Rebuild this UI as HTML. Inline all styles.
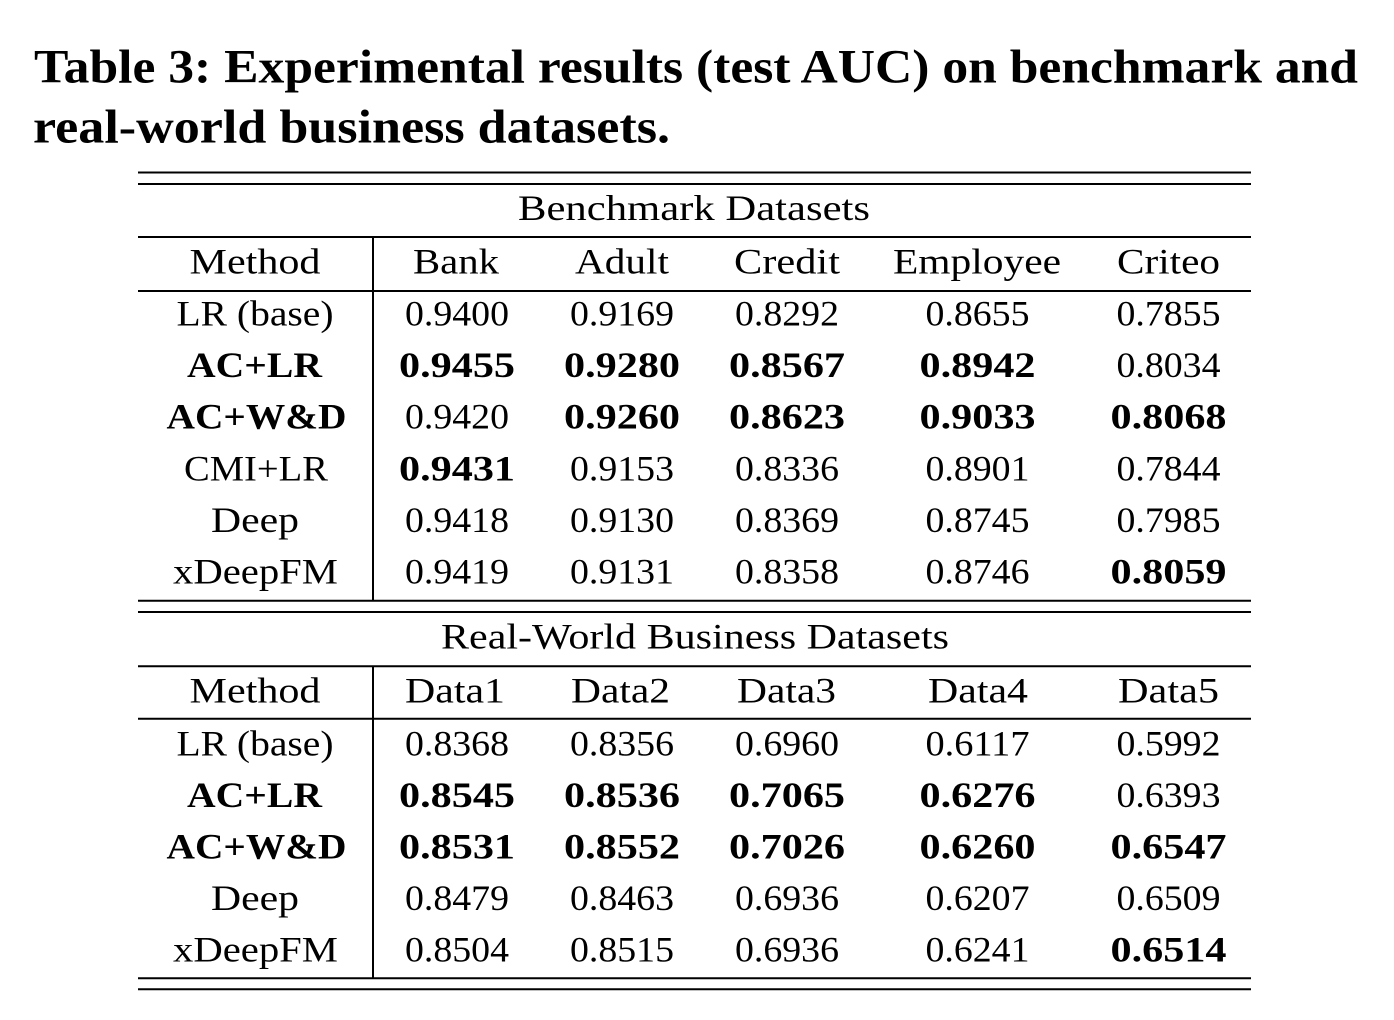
<!DOCTYPE html>
<html>
<head>
<meta charset="utf-8">
<style>
  html, body { margin: 0; padding: 0; background: #fff; }
  body { width: 1394px; height: 1020px; overflow: hidden; }
  svg { display: block; }
  text { font-family: "Liberation Serif", "DejaVu Serif", serif; fill: #000; }
  .t { font-size: 48px; font-weight: bold; }
  .c { font-size: 36px; }
  .b { font-size: 36px; font-weight: bold; }
</style>
</head>
<body>
<svg width="1394" height="1020" viewBox="0 0 1394 1020" xmlns="http://www.w3.org/2000/svg">
  <!-- Title -->
  <text class="t" x="34" y="82.7" textLength="1324" lengthAdjust="spacingAndGlyphs">Table 3: Experimental results (test AUC) on benchmark and</text>
  <text class="t" x="33" y="142.5" textLength="637" lengthAdjust="spacingAndGlyphs">real-world business datasets.</text>

  <!-- Rules -->
  <g stroke="#000" stroke-width="2">
    <line x1="138" y1="172.5" x2="1251" y2="172.5"/>
    <line x1="138" y1="184" x2="1251" y2="184"/>
    <line x1="138" y1="237" x2="1251" y2="237"/>
    <line x1="138" y1="291" x2="1251" y2="291"/>
    <line x1="138" y1="600.7" x2="1251" y2="600.7"/>
    <line x1="138" y1="612" x2="1251" y2="612"/>
    <line x1="138" y1="666.3" x2="1251" y2="666.3"/>
    <line x1="138" y1="718.7" x2="1251" y2="718.7"/>
    <line x1="138" y1="978.3" x2="1251" y2="978.3"/>
    <line x1="138" y1="989.3" x2="1251" y2="989.3"/>
    <line x1="373" y1="237" x2="373" y2="600.7"/>
    <line x1="373" y1="666.3" x2="373" y2="978.3"/>
  </g>

  <!-- Benchmark section -->
  <text class="c" x="518" y="220" textLength="352" lengthAdjust="spacingAndGlyphs">Benchmark Datasets</text>

  <text class="c" x="189.5" y="273.5" textLength="131" lengthAdjust="spacingAndGlyphs">Method</text>
  <text class="c" x="413" y="273.5" textLength="86" lengthAdjust="spacingAndGlyphs">Bank</text>
  <text class="c" x="575" y="273.5" textLength="94" lengthAdjust="spacingAndGlyphs">Adult</text>
  <text class="c" x="734" y="273.5" textLength="106" lengthAdjust="spacingAndGlyphs">Credit</text>
  <text class="c" x="893" y="273.5" textLength="168" lengthAdjust="spacingAndGlyphs">Employee</text>
  <text class="c" x="1117" y="273.5" textLength="103" lengthAdjust="spacingAndGlyphs">Criteo</text>

  <!-- Row: LR (base) -->
  <text class="c" x="176.5" y="325.5" textLength="157" lengthAdjust="spacingAndGlyphs">LR (base)</text>
  <text class="c" x="405" y="325.5" textLength="104" lengthAdjust="spacingAndGlyphs">0.9400</text>
  <text class="c" x="570" y="325.5" textLength="104" lengthAdjust="spacingAndGlyphs">0.9169</text>
  <text class="c" x="735" y="325.5" textLength="104" lengthAdjust="spacingAndGlyphs">0.8292</text>
  <text class="c" x="925.5" y="325.5" textLength="104" lengthAdjust="spacingAndGlyphs">0.8655</text>
  <text class="c" x="1116.5" y="325.5" textLength="104" lengthAdjust="spacingAndGlyphs">0.7855</text>

  <!-- Row: AC+LR -->
  <text class="b" x="187" y="377.1" textLength="135" lengthAdjust="spacingAndGlyphs">AC+LR</text>
  <text class="b" x="399" y="377.1" textLength="116" lengthAdjust="spacingAndGlyphs">0.9455</text>
  <text class="b" x="564" y="377.1" textLength="116" lengthAdjust="spacingAndGlyphs">0.9280</text>
  <text class="b" x="729" y="377.1" textLength="116" lengthAdjust="spacingAndGlyphs">0.8567</text>
  <text class="b" x="919.5" y="377.1" textLength="116" lengthAdjust="spacingAndGlyphs">0.8942</text>
  <text class="c" x="1116.5" y="377.1" textLength="104" lengthAdjust="spacingAndGlyphs">0.8034</text>

  <!-- Row: AC+W&D -->
  <text class="b" x="166.5" y="428.7" textLength="180" lengthAdjust="spacingAndGlyphs">AC+W&amp;D</text>
  <text class="c" x="405" y="428.7" textLength="104" lengthAdjust="spacingAndGlyphs">0.9420</text>
  <text class="b" x="564" y="428.7" textLength="116" lengthAdjust="spacingAndGlyphs">0.9260</text>
  <text class="b" x="729" y="428.7" textLength="116" lengthAdjust="spacingAndGlyphs">0.8623</text>
  <text class="b" x="919.5" y="428.7" textLength="116" lengthAdjust="spacingAndGlyphs">0.9033</text>
  <text class="b" x="1110.5" y="428.7" textLength="116" lengthAdjust="spacingAndGlyphs">0.8068</text>

  <!-- Row: CMI+LR -->
  <text class="c" x="184" y="480.3" textLength="144" lengthAdjust="spacingAndGlyphs">CMI+LR</text>
  <text class="b" x="399" y="480.3" textLength="116" lengthAdjust="spacingAndGlyphs">0.9431</text>
  <text class="c" x="570" y="480.3" textLength="104" lengthAdjust="spacingAndGlyphs">0.9153</text>
  <text class="c" x="735" y="480.3" textLength="104" lengthAdjust="spacingAndGlyphs">0.8336</text>
  <text class="c" x="925.5" y="480.3" textLength="104" lengthAdjust="spacingAndGlyphs">0.8901</text>
  <text class="c" x="1116.5" y="480.3" textLength="104" lengthAdjust="spacingAndGlyphs">0.7844</text>

  <!-- Row: Deep -->
  <text class="c" x="211" y="531.9" textLength="88" lengthAdjust="spacingAndGlyphs">Deep</text>
  <text class="c" x="405" y="531.9" textLength="104" lengthAdjust="spacingAndGlyphs">0.9418</text>
  <text class="c" x="570" y="531.9" textLength="104" lengthAdjust="spacingAndGlyphs">0.9130</text>
  <text class="c" x="735" y="531.9" textLength="104" lengthAdjust="spacingAndGlyphs">0.8369</text>
  <text class="c" x="925.5" y="531.9" textLength="104" lengthAdjust="spacingAndGlyphs">0.8745</text>
  <text class="c" x="1116.5" y="531.9" textLength="104" lengthAdjust="spacingAndGlyphs">0.7985</text>

  <!-- Row: xDeepFM -->
  <text class="c" x="173" y="583.5" textLength="165" lengthAdjust="spacingAndGlyphs">xDeepFM</text>
  <text class="c" x="405" y="583.5" textLength="104" lengthAdjust="spacingAndGlyphs">0.9419</text>
  <text class="c" x="570" y="583.5" textLength="104" lengthAdjust="spacingAndGlyphs">0.9131</text>
  <text class="c" x="735" y="583.5" textLength="104" lengthAdjust="spacingAndGlyphs">0.8358</text>
  <text class="c" x="925.5" y="583.5" textLength="104" lengthAdjust="spacingAndGlyphs">0.8746</text>
  <text class="b" x="1110.5" y="583.5" textLength="116" lengthAdjust="spacingAndGlyphs">0.8059</text>

  <!-- Real-World section -->
  <text class="c" x="441" y="648.5" textLength="508" lengthAdjust="spacingAndGlyphs">Real-World Business Datasets</text>

  <text class="c" x="189.5" y="702.5" textLength="131" lengthAdjust="spacingAndGlyphs">Method</text>
  <text class="c" x="405" y="702.5" textLength="100" lengthAdjust="spacingAndGlyphs">Data1</text>
  <text class="c" x="571" y="702.5" textLength="99" lengthAdjust="spacingAndGlyphs">Data2</text>
  <text class="c" x="737" y="702.5" textLength="99" lengthAdjust="spacingAndGlyphs">Data3</text>
  <text class="c" x="928" y="702.5" textLength="100" lengthAdjust="spacingAndGlyphs">Data4</text>
  <text class="c" x="1118" y="702.5" textLength="101" lengthAdjust="spacingAndGlyphs">Data5</text>

  <!-- Row: LR (base) -->
  <text class="c" x="176.5" y="755.5" textLength="157" lengthAdjust="spacingAndGlyphs">LR (base)</text>
  <text class="c" x="405" y="755.5" textLength="104" lengthAdjust="spacingAndGlyphs">0.8368</text>
  <text class="c" x="570" y="755.5" textLength="104" lengthAdjust="spacingAndGlyphs">0.8356</text>
  <text class="c" x="735" y="755.5" textLength="104" lengthAdjust="spacingAndGlyphs">0.6960</text>
  <text class="c" x="925.5" y="755.5" textLength="104" lengthAdjust="spacingAndGlyphs">0.6117</text>
  <text class="c" x="1116.5" y="755.5" textLength="104" lengthAdjust="spacingAndGlyphs">0.5992</text>

  <!-- Row: AC+LR -->
  <text class="b" x="187" y="807" textLength="135" lengthAdjust="spacingAndGlyphs">AC+LR</text>
  <text class="b" x="399" y="807" textLength="116" lengthAdjust="spacingAndGlyphs">0.8545</text>
  <text class="b" x="564" y="807" textLength="116" lengthAdjust="spacingAndGlyphs">0.8536</text>
  <text class="b" x="729" y="807" textLength="116" lengthAdjust="spacingAndGlyphs">0.7065</text>
  <text class="b" x="919.5" y="807" textLength="116" lengthAdjust="spacingAndGlyphs">0.6276</text>
  <text class="c" x="1116.5" y="807" textLength="104" lengthAdjust="spacingAndGlyphs">0.6393</text>

  <!-- Row: AC+W&D -->
  <text class="b" x="166.5" y="858.5" textLength="180" lengthAdjust="spacingAndGlyphs">AC+W&amp;D</text>
  <text class="b" x="399" y="858.5" textLength="116" lengthAdjust="spacingAndGlyphs">0.8531</text>
  <text class="b" x="564" y="858.5" textLength="116" lengthAdjust="spacingAndGlyphs">0.8552</text>
  <text class="b" x="729" y="858.5" textLength="116" lengthAdjust="spacingAndGlyphs">0.7026</text>
  <text class="b" x="919.5" y="858.5" textLength="116" lengthAdjust="spacingAndGlyphs">0.6260</text>
  <text class="b" x="1110.5" y="858.5" textLength="116" lengthAdjust="spacingAndGlyphs">0.6547</text>

  <!-- Row: Deep -->
  <text class="c" x="211" y="910" textLength="88" lengthAdjust="spacingAndGlyphs">Deep</text>
  <text class="c" x="405" y="910" textLength="104" lengthAdjust="spacingAndGlyphs">0.8479</text>
  <text class="c" x="570" y="910" textLength="104" lengthAdjust="spacingAndGlyphs">0.8463</text>
  <text class="c" x="735" y="910" textLength="104" lengthAdjust="spacingAndGlyphs">0.6936</text>
  <text class="c" x="925.5" y="910" textLength="104" lengthAdjust="spacingAndGlyphs">0.6207</text>
  <text class="c" x="1116.5" y="910" textLength="104" lengthAdjust="spacingAndGlyphs">0.6509</text>

  <!-- Row: xDeepFM -->
  <text class="c" x="173" y="961.5" textLength="165" lengthAdjust="spacingAndGlyphs">xDeepFM</text>
  <text class="c" x="405" y="961.5" textLength="104" lengthAdjust="spacingAndGlyphs">0.8504</text>
  <text class="c" x="570" y="961.5" textLength="104" lengthAdjust="spacingAndGlyphs">0.8515</text>
  <text class="c" x="735" y="961.5" textLength="104" lengthAdjust="spacingAndGlyphs">0.6936</text>
  <text class="c" x="925.5" y="961.5" textLength="104" lengthAdjust="spacingAndGlyphs">0.6241</text>
  <text class="b" x="1110.5" y="961.5" textLength="116" lengthAdjust="spacingAndGlyphs">0.6514</text>
</svg>
</body>
</html>
